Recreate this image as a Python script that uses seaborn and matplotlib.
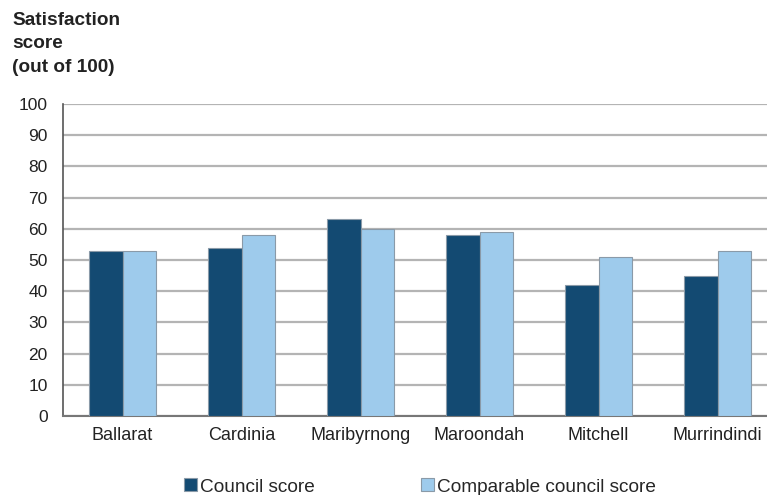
import pandas as pd
import matplotlib
matplotlib.use("Agg")
import matplotlib.pyplot as plt
import seaborn as sns

# Daten
councils = ["Ballarat", "Cardinia", "Maribyrnong", "Maroondah", "Mitchell", "Murrindindi"]
council_score = [53, 54, 63, 58, 42, 45]
comparable_score = [53, 58, 60, 59, 51, 53]
series_names = ["Council score", "Comparable council score"]
colors = ["#134a72", "#9ecbec"]

df = pd.DataFrame({
    "Council": councils * 2,
    "Score": council_score + comparable_score,
    "Series": [series_names[0]] * len(councils) + [series_names[1]] * len(councils),
})

sns.set_style("white")
plt.rcParams["font.family"] = ["Liberation Sans", "DejaVu Sans"]

fig = plt.figure(figsize=(7.67, 4.95), dpi=100)
ax = fig.add_axes([63 / 767, 79 / 495, 714 / 767, 312 / 495])

sns.barplot(data=df, x="Council", y="Score", hue="Series", palette=colors,
            saturation=1, width=0.57, edgecolor="#8a9aa8", linewidth=0.8,
            ax=ax, zorder=3)

ax.set_ylim(0, 100)
ax.set_xlim(-0.5, len(councils) - 0.5)
ax.set_yticks(range(0, 101, 10))
ax.yaxis.grid(True, color="#b4b4b4", linewidth=1.6, zorder=0)
ax.set_axisbelow(True)
ax.set_xlabel("")
ax.set_ylabel("")

for side in ["top", "right"]:
    ax.spines[side].set_visible(False)
ax.spines["left"].set_color("#555555")
ax.spines["bottom"].set_color("#777777")
ax.spines["left"].set_linewidth(1.2)
ax.spines["bottom"].set_linewidth(1.5)

# x-Ticks an den Gruppengrenzen, Labels in der Mitte
ax.set_xticks([i + 0.5 for i in range(len(councils))])
ax.set_xticklabels([])
ax.set_xticks(range(len(councils)), minor=True)
ax.set_xticklabels(councils, minor=True, fontsize=13, color="#222222")
ax.tick_params(axis="x", which="major", direction="out", length=5, color="#555555", width=1)
ax.tick_params(axis="x", which="minor", length=0, pad=8)
ax.tick_params(axis="y", direction="out", length=5, color="#555555", width=1,
               labelsize=12.5, labelcolor="#222222", pad=6)

fig.text(12 / 767, 1 - 12 / 495, "Satisfaction\nscore\n(out of 100)",
         ha="left", va="top", fontsize=13.7, fontweight="bold", color="#222222",
         linespacing=1.5)

handles, labels = ax.get_legend_handles_labels()
ax.legend(handles, labels, loc="center", bbox_to_anchor=(420 / 767, 1 - 487 / 495),
          bbox_transform=fig.transFigure, ncol=2, frameon=False, fontsize=13.7,
          handlelength=0.67, handleheight=0.67, handletextpad=0.15, columnspacing=5.6)

fig.savefig("out.png", dpi=100)
